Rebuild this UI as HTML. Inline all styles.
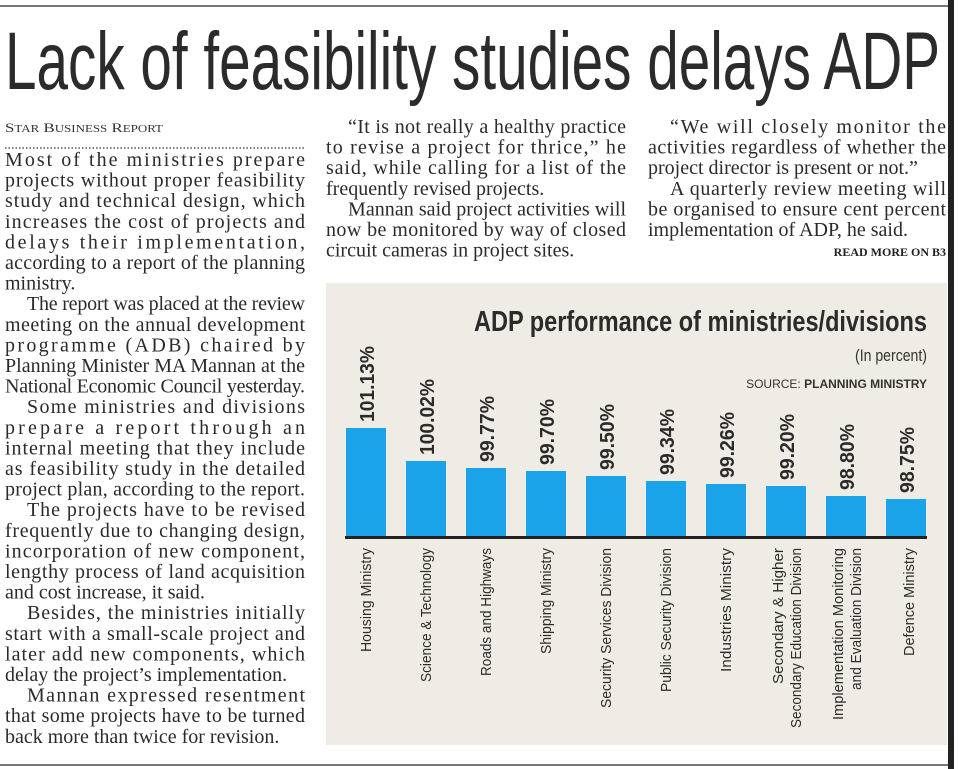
<!DOCTYPE html>
<html><head><meta charset="utf-8"><style>
html,body{margin:0;padding:0;background:#fff;}
svg{display:block;}
.b{font-family:"Liberation Serif",serif;font-size:20px;fill:#2a2a2a;}
.h{font-family:"Liberation Sans",sans-serif;}
</style></head><body>
<svg width="968" height="769" viewBox="0 0 968 769" xmlns="http://www.w3.org/2000/svg">
<rect width="968" height="769" fill="#fff"/>
<rect x="0" y="5" width="948" height="2" fill="#777"/>
<rect x="948" y="0" width="6" height="769" fill="#222"/>
<rect x="0" y="764" width="948" height="2" fill="#777"/>
<text class="h" x="5" y="89" font-size="82" textLength="935" lengthAdjust="spacingAndGlyphs" fill="#2b2b2b">Lack of feasibility studies delays ADP</text>

<text x="5" y="132" font-family="Liberation Serif,serif" font-size="13" fill="#333" textLength="158" lengthAdjust="spacingAndGlyphs">S<tspan font-size="10">TAR</tspan> B<tspan font-size="10">USINESS</tspan> R<tspan font-size="10">EPORT</tspan></text>
<line x1="5" y1="148" x2="305" y2="148" stroke="#555" stroke-width="1.5" stroke-dasharray="1.5,2"/>

<g class="b">
<text x="5" y="166" textLength="300" lengthAdjust="spacing">Most of the ministries prepare</text>
<text x="5" y="186.6" textLength="300" lengthAdjust="spacing">projects without proper feasibility</text>
<text x="5" y="207.2" textLength="300" lengthAdjust="spacing">study and technical design, which</text>
<text x="5" y="227.8" textLength="300" lengthAdjust="spacing">increases the cost of projects and</text>
<text x="5" y="248.4" textLength="300" lengthAdjust="spacing">delays their implementation,</text>
<text x="5" y="269" textLength="300" lengthAdjust="spacing">according to a report of the planning</text>
<text x="5" y="289.6">ministry.</text>
<text x="27" y="310.2" textLength="278" lengthAdjust="spacing">The report was placed at the review</text>
<text x="5" y="330.8" textLength="300" lengthAdjust="spacing">meeting on the annual development</text>
<text x="5" y="351.4" textLength="300" lengthAdjust="spacing">programme (ADB) chaired by</text>
<text x="5" y="372" textLength="300" lengthAdjust="spacing">Planning Minister MA Mannan at the</text>
<text x="5" y="392.6" textLength="300" lengthAdjust="spacing">National Economic Council yesterday.</text>
<text x="27" y="413.2" textLength="278" lengthAdjust="spacing">Some ministries and divisions</text>
<text x="5" y="433.8" textLength="300" lengthAdjust="spacing">prepare a report through an</text>
<text x="5" y="454.4" textLength="300" lengthAdjust="spacing">internal meeting that they include</text>
<text x="5" y="475" textLength="300" lengthAdjust="spacing">as feasibility study in the detailed</text>
<text x="5" y="495.6" textLength="300" lengthAdjust="spacing">project plan, according to the report.</text>
<text x="27" y="516.2" textLength="278" lengthAdjust="spacing">The projects have to be revised</text>
<text x="5" y="536.8" textLength="300" lengthAdjust="spacing">frequently due to changing design,</text>
<text x="5" y="557.4" textLength="300" lengthAdjust="spacing">incorporation of new component,</text>
<text x="5" y="578" textLength="300" lengthAdjust="spacing">lengthy process of land acquisition</text>
<text x="5" y="598.6">and cost increase, it said.</text>
<text x="27" y="619.2" textLength="278" lengthAdjust="spacing">Besides, the ministries initially</text>
<text x="5" y="639.8" textLength="300" lengthAdjust="spacing">start with a small-scale project and</text>
<text x="5" y="660.4" textLength="300" lengthAdjust="spacing">later add new components, which</text>
<text x="5" y="681">delay the project’s implementation.</text>
<text x="27" y="701.6" textLength="278" lengthAdjust="spacing">Mannan expressed resentment</text>
<text x="5" y="722.2" textLength="300" lengthAdjust="spacing">that some projects have to be turned</text>
<text x="5" y="742.8">back more than twice for revision.</text>

<text x="348" y="133" textLength="278" lengthAdjust="spacing">“It is not really a healthy practice</text>
<text x="326" y="153.6" textLength="300" lengthAdjust="spacing">to revise a project for thrice,” he</text>
<text x="326" y="174.2" textLength="300" lengthAdjust="spacing">said, while calling for a list of the</text>
<text x="326" y="194.8">frequently revised projects.</text>
<text x="348" y="215.4" textLength="278" lengthAdjust="spacing">Mannan said project activities will</text>
<text x="326" y="236" textLength="300" lengthAdjust="spacing">now be monitored by way of closed</text>
<text x="326" y="256.6">circuit cameras in project sites.</text>

<text x="670" y="133" textLength="276" lengthAdjust="spacing">“We will closely monitor the</text>
<text x="648" y="153.6" textLength="298" lengthAdjust="spacing">activities regardless of whether the</text>
<text x="648" y="174.2">project director is present or not.”</text>
<text x="670" y="194.8" textLength="276" lengthAdjust="spacing">A quarterly review meeting will</text>
<text x="648" y="215.4" textLength="298" lengthAdjust="spacing">be organised to ensure cent percent</text>
<text x="648" y="236">implementation of ADP, he said.</text>
</g>
<text x="946" y="256" text-anchor="end" font-family="Liberation Serif,serif" font-size="12" font-weight="bold" fill="#222">READ MORE ON B3</text>

<rect x="326" y="283" width="621" height="462" fill="#efece5"/>
<text class="h" x="927" y="331" text-anchor="end" font-size="29" font-weight="bold" fill="#2b2b2b" textLength="453" lengthAdjust="spacingAndGlyphs">ADP performance of ministries/divisions</text>
<text class="h" x="927" y="361" text-anchor="end" font-size="17" fill="#333" textLength="72" lengthAdjust="spacingAndGlyphs">(In percent)</text>
<text class="h" x="927" y="388" text-anchor="end" font-size="12" fill="#333">SOURCE: <tspan font-weight="bold">PLANNING MINISTRY</tspan></text>

<g fill="#1aa3e8">
<rect x="346" y="428" width="40" height="109"/>
<rect x="406" y="461" width="40" height="76"/>
<rect x="466" y="468" width="40" height="69"/>
<rect x="526" y="471" width="40" height="66"/>
<rect x="586" y="476" width="40" height="61"/>
<rect x="646" y="481" width="40" height="56"/>
<rect x="706" y="484" width="40" height="53"/>
<rect x="766" y="486" width="40" height="51"/>
<rect x="826" y="496" width="40" height="41"/>
<rect x="886" y="499" width="40" height="38"/>
</g>
<rect x="345" y="536" width="582" height="3" fill="#222"/>

<g class="h" font-size="20" font-weight="bold" fill="#2b2b2b">
<text transform="translate(374,422) rotate(-90)" textLength="76" lengthAdjust="spacingAndGlyphs">101.13%</text>
<text transform="translate(434,455) rotate(-90)" textLength="76" lengthAdjust="spacingAndGlyphs">100.02%</text>
<text transform="translate(494,462) rotate(-90)" textLength="66" lengthAdjust="spacingAndGlyphs">99.77%</text>
<text transform="translate(554,465) rotate(-90)" textLength="66" lengthAdjust="spacingAndGlyphs">99.70%</text>
<text transform="translate(614,470) rotate(-90)" textLength="66" lengthAdjust="spacingAndGlyphs">99.50%</text>
<text transform="translate(674,475) rotate(-90)" textLength="66" lengthAdjust="spacingAndGlyphs">99.34%</text>
<text transform="translate(734,478) rotate(-90)" textLength="66" lengthAdjust="spacingAndGlyphs">99.26%</text>
<text transform="translate(794,480) rotate(-90)" textLength="66" lengthAdjust="spacingAndGlyphs">99.20%</text>
<text transform="translate(854,490) rotate(-90)" textLength="66" lengthAdjust="spacingAndGlyphs">98.80%</text>
<text transform="translate(914,493) rotate(-90)" textLength="66" lengthAdjust="spacingAndGlyphs">98.75%</text>
</g>

<g class="h" font-size="15" fill="#2b2b2b" text-anchor="end">
<text transform="translate(371,548) rotate(-90)" textLength="104" lengthAdjust="spacingAndGlyphs">Housing Ministry</text>
<text transform="translate(431,548) rotate(-90)" textLength="134" lengthAdjust="spacingAndGlyphs">Science &amp; Technology</text>
<text transform="translate(491,548) rotate(-90)" textLength="128" lengthAdjust="spacingAndGlyphs">Roads and Highways</text>
<text transform="translate(551,548) rotate(-90)" textLength="106" lengthAdjust="spacingAndGlyphs">Shipping Ministry</text>
<text transform="translate(611,548) rotate(-90)" textLength="160" lengthAdjust="spacingAndGlyphs">Security Services Division</text>
<text transform="translate(671,548) rotate(-90)" textLength="144" lengthAdjust="spacingAndGlyphs">Public Security Division</text>
<text transform="translate(731,548) rotate(-90)" textLength="124" lengthAdjust="spacingAndGlyphs">Industries Ministry</text>
<text transform="translate(783,548) rotate(-90)" textLength="136" lengthAdjust="spacingAndGlyphs">Secondary &amp; Higher</text>
<text transform="translate(801,548) rotate(-90)" textLength="180" lengthAdjust="spacingAndGlyphs">Secondary Education Division</text>
<text transform="translate(843,548) rotate(-90)" textLength="172" lengthAdjust="spacingAndGlyphs">Implementation Monitoring</text>
<text transform="translate(861,548) rotate(-90)" textLength="142" lengthAdjust="spacingAndGlyphs">and Evaluation Division</text>
<text transform="translate(914,548) rotate(-90)" textLength="108" lengthAdjust="spacingAndGlyphs">Defence Ministry</text>
</g>
</svg>
</body></html>
